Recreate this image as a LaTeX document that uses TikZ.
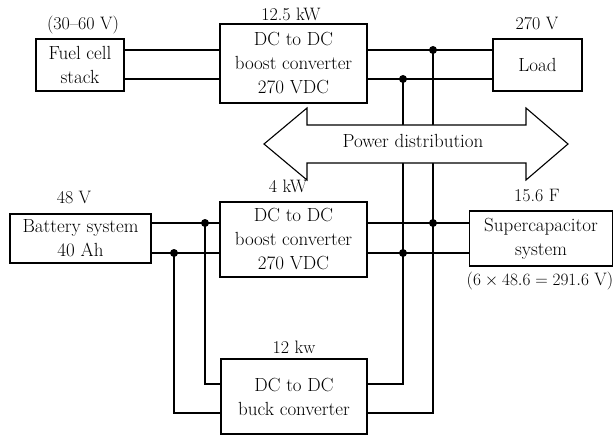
\documentclass[tikz,border=0pt]{standalone}
\usetikzlibrary{positioning}

\tikzset{
  box/.style={draw,rectangle,inner sep=0pt,align=center,font=\fontsize{19}{24}\selectfont},
  lbl/.style={anchor=base,inner sep=0pt,font=\fontsize{18}{21}\selectfont},
  jn/.style={circle,fill,inner sep=0pt,minimum size=8pt},
}

\begin{document}
\begin{tikzpicture}[x=1pt,y=-1pt,line width=1.1pt]
\useasboundingbox (0,0) rectangle (614,436);
% boxes
\node[box,minimum width=88,minimum height=52] (fc) at (80,65) {Fuel cell\\stack};
\node[box,minimum width=147,minimum height=79] (tc) at (293.5,63.5) {DC to DC\\boost converter\\270 VDC};
\node[box,minimum width=89,minimum height=52] (load) at (537.5,65) {Load};
\node[box,minimum width=141,minimum height=49] (bat) at (80.5,238.5) {Battery system\\40 Ah};
\node[box,minimum width=147,minimum height=75] (lc) at (293.5,239.5) {DC to DC\\boost converter\\270 VDC};
\node[box,minimum width=143,minimum height=55] (sc) at (541,238.5) {Supercapacitor\\system};
\node[box,minimum width=146,minimum height=75] (bk) at (294,396.5) {DC to DC\\buck converter};
% ratings
\node[lbl] (vfc) at (83,30) {(30--60 V)};
\node[lbl] (ptc) at (291,21) {12.5 kW};
\node[lbl] (vload) at (537,30) {270 V};
\node[lbl] (vbat) at (74,203) {48 V};
\node[lbl] (plc) at (288,193) {4 kW};
\node[lbl] (csc) at (537,201) {15.6 F};
\node[lbl] (vsc) at (540,285) {($6\times48.6=291.6$ V)};
\node[lbl] (pbk) at (294,353) {12 kw};
% bus levels and columns
\coordinate (hi) at (0,50);
\coordinate (lo) at (0,79);
\coordinate (bhi) at (0,223);
\coordinate (blo) at (0,253);
\coordinate (khi) at (0,384);
\coordinate (klo) at (0,413);
\coordinate (ca) at (403,0);
\coordinate (cb) at (433,0);
\coordinate (cc) at (174,0);
\coordinate (cd) at (205,0);
% wiring
\draw (fc.east|-hi) -- (tc.west|-hi);
\draw (fc.east|-lo) -- (tc.west|-lo);
\draw (tc.east|-hi) -- (load.west|-hi);
\draw (tc.east|-lo) -- (load.west|-lo);
\draw (bat.east|-bhi) -- (lc.west|-bhi);
\draw (bat.east|-blo) -- (lc.west|-blo);
\draw (lc.east|-bhi) -- (sc.west|-bhi);
\draw (lc.east|-blo) -- (sc.west|-blo);
\draw (cd|-bhi) |- (bk.west|-khi);
\draw (cc|-blo) |- (bk.west|-klo);
\draw (bk.east|-khi) -| (ca|-lo);
\draw (bk.east|-klo) -| (cb|-hi);
% power distribution arrow
\draw[fill=white] (264,144) -- (307,108) -- (307,125) -- (526,125) -- (526,108)
  -- (568,144) -- (526,180) -- (526,163) -- (307,163) -- (307,180) -- cycle;
\node[anchor=base,inner sep=0pt,font=\fontsize{19}{24}\selectfont] (pd) at (413,148) {Power distribution};
% junctions
\node[jn] (j1) at (cb|-hi) {};
\node[jn] (j2) at (ca|-lo) {};
\node[jn] (j3) at (cd|-bhi) {};
\node[jn] (j4) at (cc|-blo) {};
\node[jn] (j5) at (cb|-bhi) {};
\node[jn] (j6) at (ca|-blo) {};
\end{tikzpicture}
\end{document}
